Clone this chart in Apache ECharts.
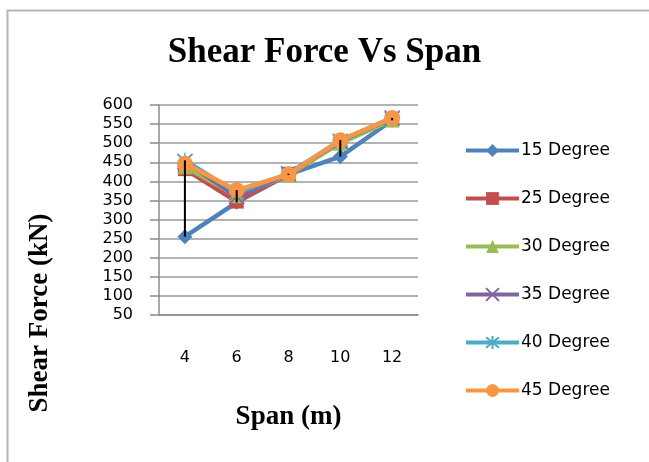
<!DOCTYPE html>
<html>
<head>
<meta charset="utf-8">
<script src="https://cdn.jsdelivr.net/npm/echarts@6/dist/echarts.min.js"></script>
<style>
  html, body { margin: 0; padding: 0; background: #fff; }
  #chart { width: 649px; height: 462px; }
</style>
</head>
<body>
<div id="chart"></div>
<script>
// span categories (m)
var spans = ['4', '6', '8', '10', '12'];
var yTicks = [50, 600, 50]; // min, max, step

// shear force (kN) per angle
var deg15 = [255, 345, 418, 465, 560];
var deg25 = [432, 347, 420, 503, 563];
var deg30 = [438, 362, 417, 500, 561];
var deg35 = [452, 360, 420, 505, 566];
var deg40 = [455, 370, 420, 506, 566];
var deg45 = [446, 377, 418, 508, 566];

var names = ['15 Degree', '25 Degree', '30 Degree', '35 Degree', '40 Degree', '45 Degree'];
var colors = ['#4F81BD', '#C0504D', '#9BBB59', '#8064A2', '#4BACC6', '#F79646'];
var symbols = [
  'diamond', 'rect', 'triangle',
  'path://M0,0L10,10M10,0L0,10',
  'path://M0,0L10,10M10,0L0,10M5,-1L5,11',
  'circle'
];
var allSeries = [deg15, deg25, deg30, deg35, deg40, deg45];

// high-low lines: max and min across the series per span
var hiLo = spans.map(function (s, i) {
  var vals = allSeries.map(function (d) { return d[i]; });
  return [i, Math.min.apply(null, vals), Math.max.apply(null, vals)];
});

var chart = echarts.init(document.getElementById('chart'));

var series = allSeries.map(function (d, k) {
  var isPath = symbols[k].indexOf('path://') === 0;
  return {
    name: names[k],
    type: 'line',
    data: d,
    symbol: symbols[k],
    symbolSize: k === 5 ? 16 : (k === 1 ? 14 : 15),
    showAllSymbol: true,
    lineStyle: { color: colors[k], width: 4.5 },
    itemStyle: isPath
      ? { color: colors[k], borderColor: colors[k], borderWidth: 1.5 }
      : { color: colors[k], borderWidth: 0 },
    emphasis: { disabled: true },
    z: 2 + k
  };
});

series.push({
  type: 'custom',
  name: 'hilo',
  z: 20,
  data: hiLo,
  renderItem: function (params, api) {
    var p1 = api.coord([api.value(0), api.value(1)]);
    var p2 = api.coord([api.value(0), api.value(2)]);
    return {
      type: 'line',
      shape: { x1: p1[0], y1: p1[1], x2: p2[0], y2: p2[1] },
      style: { stroke: '#000', lineWidth: 2 }
    };
  }
});

var option = {
  animation: false,
  backgroundColor: '#fff',
  graphic: [{
    type: 'rect',
    left: 5, top: 8,
    shape: { width: 700, height: 520 },
    style: { fill: 'none', stroke: '#b5b5b5', lineWidth: 2 },
    silent: true
  }, {
    type: 'text',
    x: 40, y: 313,
    rotation: Math.PI / 2,
    style: {
      text: 'Shear Force (kN)',
      align: 'center',
      verticalAlign: 'middle',
      font: 'bold 27px "Liberation Serif"',
      fill: '#000'
    },
    silent: true
  }],
  title: {
    text: 'Shear Force Vs Span',
    left: 'center',
    top: 30,
    padding: [5, 5, 5, 15],
    textStyle: { fontFamily: 'Liberation Serif', fontWeight: 'bold', fontSize: 35, color: '#000' }
  },
  legend: {
    orient: 'vertical',
    left: 459,
    top: 137,
    itemWidth: 53,
    itemHeight: 16,
    itemGap: 31,
    data: names,
    lineStyle: { width: 4 },
    textStyle: { fontFamily: 'DejaVu Sans', fontSize: 17, color: '#000', padding: [0, 0, 0, -3] }
  },
  grid: { left: 159, right: 231, top: 105, bottom: 147 },
  xAxis: {
    type: 'category',
    data: spans,
    boundaryGap: true,
    name: 'Span (m)',
    nameLocation: 'middle',
    nameGap: 89,
    nameTextStyle: { fontFamily: 'Liberation Serif', fontWeight: 'bold', fontSize: 27, color: '#000' },
    axisLine: { lineStyle: { color: '#8c8c8c', width: 1.5 } },
    axisTick: { show: false },
    axisLabel: { margin: 35, fontFamily: 'DejaVu Sans', fontSize: 16, color: '#000' }
  },
  yAxis: {
    type: 'value',
    min: yTicks[0],
    max: yTicks[1],
    interval: yTicks[2],
    axisLine: { show: true, lineStyle: { color: '#8c8c8c', width: 1.5 } },
    axisTick: { show: true, length: 9, lineStyle: { color: '#8c8c8c', width: 1.5 } },
    axisLabel: { margin: 26, fontFamily: 'DejaVu Sans', fontSize: 16, color: '#000' },
    splitLine: { lineStyle: { color: '#9a9a9a', width: 1.5 } }
  },
  series: series
};

chart.setOption(option);
</script>
</body>
</html>
